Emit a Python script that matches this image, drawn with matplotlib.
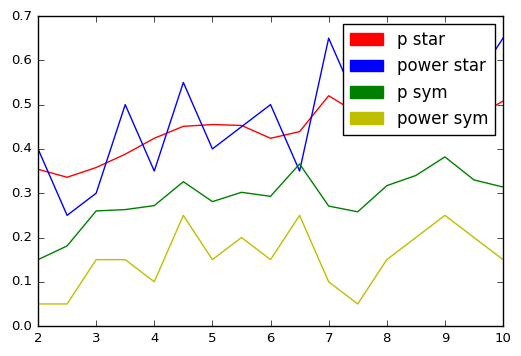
import matplotlib
matplotlib.use("Agg")
import matplotlib.pyplot as plt
import matplotlib.patches as mpatches

# data
x = [2, 2.5, 3, 3.5, 4, 4.5, 5, 5.5, 6, 6.5, 7, 7.5, 8, 8.5, 9, 9.5, 10]
p_star = [0.354, 0.336, 0.358, 0.388, 0.424, 0.451, 0.455, 0.453, 0.424, 0.439,
          0.520, 0.48, 0.47, 0.48, 0.47, 0.47, 0.508]
power_star = [0.40, 0.25, 0.30, 0.50, 0.35, 0.55, 0.40, 0.45, 0.50, 0.35,
              0.65, 0.50, 0.55, 0.60, 0.50, 0.55, 0.65]
p_sym = [0.150, 0.181, 0.260, 0.263, 0.272, 0.326, 0.281, 0.302, 0.293, 0.366,
         0.271, 0.258, 0.317, 0.340, 0.382, 0.330, 0.314]
power_sym = [0.05, 0.05, 0.15, 0.15, 0.10, 0.25, 0.15, 0.20, 0.15, 0.25,
             0.10, 0.05, 0.15, 0.20, 0.25, 0.20, 0.15]

series = [("p star", p_star, "r"), ("power star", power_star, "b"),
          ("p sym", p_sym, "g"), ("power sym", power_sym, "y")]

plt.style.use("classic")
plt.rcParams["font.size"] = 11

fig = plt.figure(figsize=(5.21, 3.56), dpi=100, facecolor="white")
ax = fig.add_axes([0.073, 0.084, 0.8925, 0.871])

handles = []
for label, ys, c in series:
    ax.plot(x, ys, color=c, lw=1.0)
    handles.append(mpatches.Patch(color=c, label=label))

ax.set_xlim(2, 10)
ax.set_ylim(0, 0.7)
ax.tick_params(labelsize=9.5)
ax.legend(handles=handles, loc="upper right", fontsize=12)

fig.savefig("out.png", dpi=100, facecolor="white")
